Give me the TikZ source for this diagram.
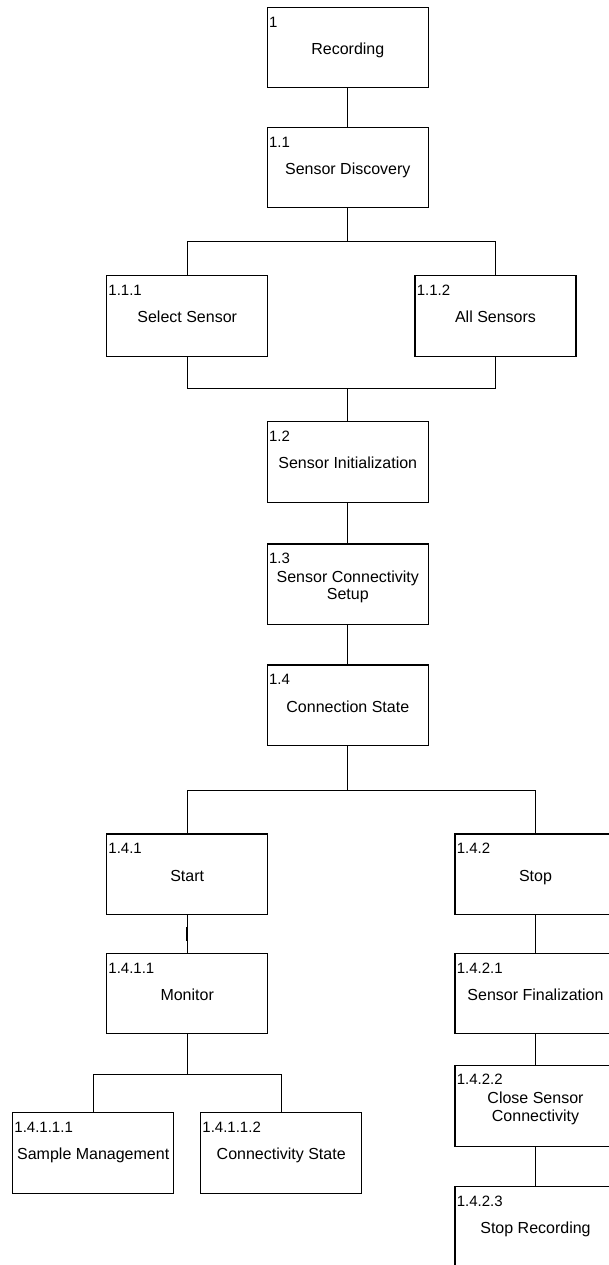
\documentclass[tikz,border=0pt]{standalone}
\usepackage{fontspec}
\setmainfont{Liberation Sans}
\tikzset{
  boxs/.style={draw=black, line width=0.8pt, minimum width=120.75pt, minimum height=60.3pt, inner sep=0pt, outer sep=0pt, anchor=north west, fill=none},
  num/.style={font=\fontsize{11.25}{13}\selectfont, inner sep=0pt, anchor=base west},
  txt/.style={font=\fontsize{12}{14}\selectfont, inner sep=0pt, anchor=base},
  conn/.style={draw=black, line width=0.8pt}
}
\newcommand\mybox[5]{%
  \node[boxs] (#1) at (#2,#3) {};
  \node[num] (#1n) at ([shift={(1.5,19.7)}]#1.north west) {#4};
  \node[txt] (#1t) at ([shift={(0,47)}]#1.north) {#5};
}
\newcommand\myboxii[6]{%
  \node[boxs] (#1) at (#2,#3) {};
  \node[num] (#1n) at ([shift={(1.5,19)}]#1.north west) {#4};
  \node[txt] (#1a) at ([shift={(0,38)}]#1.north) {#5};
  \node[txt] (#1b) at ([shift={(0,55.5)}]#1.north) {#6};
}
\begin{document}
\begin{tikzpicture}[x=0.75pt,y=-0.75pt]
\useasboundingbox (0,0) rectangle (608,1265);
% boxes
\mybox{ra}{267.3}{7.3}{1}{Recording}
\mybox{rb}{267.3}{127.3}{1.1}{Sensor Discovery}
\mybox{rc}{106.7}{275.7}{1.1.1}{Select Sensor}
\mybox{rd}{415}{275.7}{1.1.2}{All Sensors}
\mybox{re}{267.3}{421.7}{1.2}{Sensor Initialization}
\myboxii{rf}{267.3}{544}{1.3}{Sensor Connectivity}{Setup}
\mybox{rg}{267.3}{665}{1.4}{Connection State}
\mybox{rh}{106.7}{834}{1.4.1}{Start}
\mybox{ri}{455}{834}{1.4.2}{Stop}
\mybox{rj}{106.7}{953.3}{1.4.1.1}{Monitor}
\mybox{rk}{12.7}{1112.7}{1.4.1.1.1}{Sample Management}
\mybox{rl}{200.7}{1112.7}{1.4.1.1.2}{Connectivity State}
\mybox{rm}{455}{953.3}{1.4.2.1}{Sensor Finalization}
\myboxii{rn}{455}{1065.7}{1.4.2.2}{Close Sensor}{Connectivity}
\mybox{ro}{455}{1186.7}{1.4.2.3}{Stop Recording}
% junction points
\path (rb.south) ++(0,34) coordinate (ja);
\path (re.north) ++(0,-33) coordinate (jb);
\path (rg.south) ++(0,45) coordinate (jc);
\path (rj.south) ++(0,40.5) coordinate (jd);
% connectors
\draw[conn] (ra.south) -- (rb.north);
\draw[conn] (rb.south) -- (ja);
\draw[conn] (rc.north) |- (ja) -| (rd.north);
\draw[conn] (rc.south) |- (jb) -| (rd.south);
\draw[conn] (jb) -- (re.north);
\draw[conn] (re.south) -- (rf.north);
\draw[conn] (rf.south) -- (rg.north);
\draw[conn] ([shift={(-0.6,15)}]rf.south) -- ++(0,12);
\draw[conn] (rg.south) -- (jc);
\draw[conn] (rh.north) |- (jc) -| (ri.north);
\draw[conn] (rh.south) -- (rj.north);
\draw[conn] ([shift={(-0.6,13)}]rh.south) -- ++(0,14);
\draw[conn] (rj.south) -- (jd);
\draw[conn] (rk.north) |- (jd) -| (rl.north);
\draw[conn] (ri.south) -- (rm.north);
\draw[conn] (rm.south) -- (rn.north);
\draw[conn] (rn.south) -- (ro.north);
\end{tikzpicture}
\end{document}
